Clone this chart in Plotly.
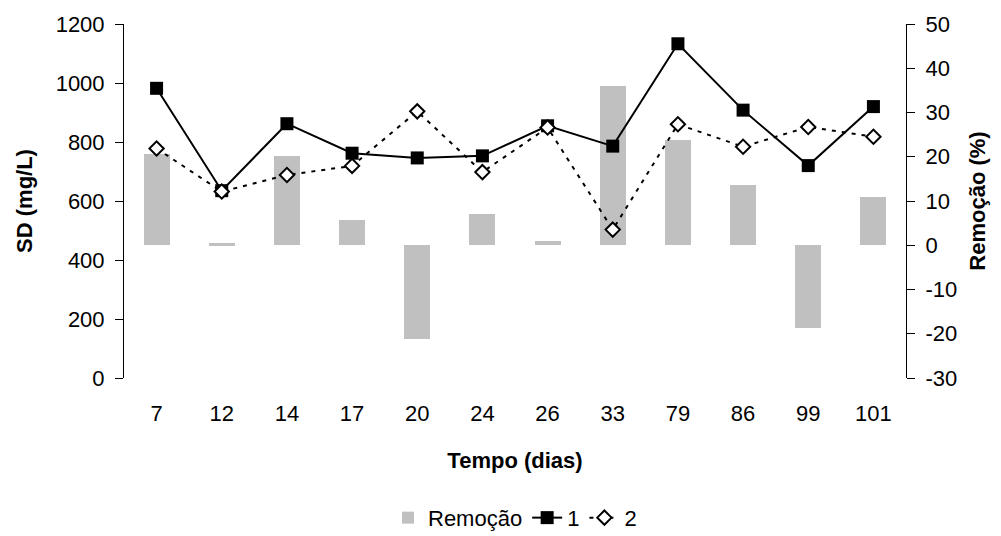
import plotly.graph_objects as go

categories = ["7", "12", "14", "17", "20", "24", "26", "33", "79", "86", "99", "101"]
serie_1 = [982, 635, 862, 762, 746, 753, 855, 786, 1133, 908, 720, 920]
serie_2 = [778, 632, 688, 719, 904, 698, 849, 503, 860, 784, 851, 818]
remocao = [20.6, 0.4, 20.2, 5.7, -21.1, 7.1, 1.0, 36.0, 23.8, 13.6, -18.6, 10.9]

left_ticks = [0, 200, 400, 600, 800, 1000, 1200]
right_ticks = [-30, -20, -10, 0, 10, 20, 30, 40, 50]
right_tick_labels = ["-30", "-20", "-10", "0", "10", "20", "30", "40", "50"]

FONT = "Liberation Sans, Arial, sans-serif"
n = len(categories)
idx = list(range(n))
bounds = [i - 0.5 for i in range(n + 1)]

fig = go.Figure()
fig.add_trace(go.Bar(x=idx, y=remocao, name="Remoção", yaxis="y",
                     marker=dict(color="#C0C0C0", line=dict(width=0)), width=0.4))
fig.add_trace(go.Scatter(x=idx, y=serie_1, name="1", mode="lines+markers", yaxis="y2",
                         line=dict(color="black", width=2),
                         marker=dict(symbol="square", size=13, color="black")))
fig.add_trace(go.Scatter(x=idx, y=serie_2, name="2", mode="lines+markers", yaxis="y2",
                         line=dict(color="black", width=2, dash="4px,6px"),
                         marker=dict(symbol="diamond", size=11, color="white",
                                     line=dict(color="black", width=2))))

tickfont = dict(family=FONT, size=22, color="black")
titlefont = dict(family=FONT, size=22, color="black", weight="bold")

fig.update_layout(
    width=1001, height=536,
    margin=dict(l=124, r=95, t=24, b=158, autoexpand=False),
    paper_bgcolor="white", plot_bgcolor="white",
    font=dict(family=FONT, size=22, color="black"),
    bargap=0,
    xaxis=dict(range=[-0.5, n - 0.5], tickmode="array", tickvals=idx, ticktext=categories,
               ticks="", showgrid=False, zeroline=False, showline=False, automargin=False,
               tickfont=tickfont, ticklabelstandoff=20,
               title=dict(text="Tempo (dias)", font=titlefont, standoff=27)),
    xaxis2=dict(range=[-0.5, n - 0.5], overlaying="x", anchor="y", side="bottom",
                tickmode="array", tickvals=bounds, ticks="outside", ticklen=8,
                tickcolor="black", tickwidth=1, showticklabels=False,
                showline=True, linecolor="#808080", linewidth=1,
                showgrid=False, zeroline=False),
    xaxis3=dict(range=[-0.5, n - 0.5], overlaying="x", anchor="y", side="bottom",
                tickmode="array", tickvals=bounds, ticks="inside", ticklen=8,
                tickcolor="black", tickwidth=1, showticklabels=False,
                showline=False, showgrid=False, zeroline=False),
    yaxis=dict(range=[-30, 50], side="right", anchor="x", automargin=False,
               tickmode="array", tickvals=right_ticks, ticktext=right_tick_labels,
               ticks="outside", ticklen=8, tickcolor="black", tickwidth=1,
               showline=True, linecolor="black", linewidth=1,
               showgrid=False, zeroline=False, tickfont=tickfont, ticklabelstandoff=6,
               title=dict(text="Remoção (%)", font=titlefont, standoff=13)),
    yaxis2=dict(range=[0, 1200], overlaying="y", side="left", anchor="x", automargin=False,
                tickmode="array", tickvals=left_ticks,
                ticks="outside", ticklen=8, tickcolor="black", tickwidth=1,
                showline=True, linecolor="black", linewidth=1,
                showgrid=False, zeroline=False, tickfont=tickfont, ticklabelstandoff=6,
                title=dict(text="SD (mg/L)", font=titlefont, standoff=16)),
    yaxis3=dict(range=[0, 1200], overlaying="y", side="left", anchor="x",
                tickmode="array", tickvals=left_ticks, ticks="inside", ticklen=8,
                tickcolor="black", tickwidth=1, showticklabels=False,
                showline=False, showgrid=False, zeroline=False),
    yaxis4=dict(range=[-30, 50], overlaying="y", side="right", anchor="x",
                tickmode="array", tickvals=right_ticks, ticks="inside", ticklen=8,
                tickcolor="black", tickwidth=1, showticklabels=False,
                showline=False, showgrid=False, zeroline=False),
    legend=dict(orientation="h", x=0.5, xanchor="center", y=-0.395, yanchor="middle",
                font=dict(family=FONT, size=22, color="black"),
                traceorder="normal", itemwidth=30),
    showlegend=True,
)

fig.write_html("out.html")
